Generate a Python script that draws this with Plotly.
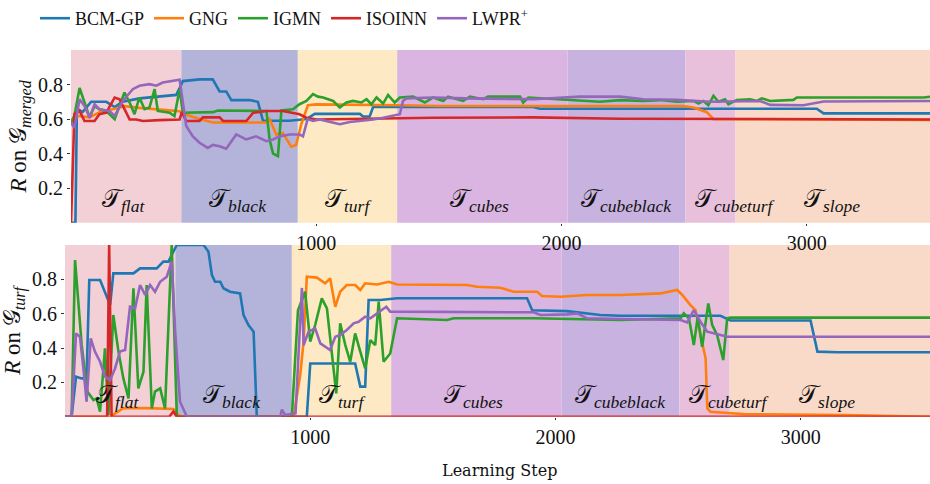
import plotly.graph_objects as go

# ---- phases of the learning schedule (shared by both panels) ----
phase_names = ["flat", "black", "turf", "cubes", "cubeblack", "cubeturf", "slope"]
phase_edges = [0, 450, 925, 1330, 2025, 2505, 2710, 3600]
phase_colors = ["#f3d0d5", "#b4b4da", "#fde9c4", "#dbb5e1", "#c8b2e0", "#e8c0dc", "#f9d9c7"]
# label centre positions (learning step) for each phase tag
phase_label_x = [215, 682, 1130, 1665, 2265, 2705, 3105]

methods = ["BCM-GP", "GNG", "IGMN", "ISOINN", "LWPR<sup>+</sup>"]
method_colors = ["#1f77b4", "#ff7f0e", "#2ca02c", "#d62728", "#9467bd"]

# ---- R on G_merged ----
merged_bcm_x = [0, 18, 24, 47, 82, 144, 178, 210, 280, 348, 402, 429, 443, 456, 524, 578, 606, 633, 654, 729,
                762, 783, 892, 960, 994, 1178, 1191, 1218, 1232, 1885, 1912, 3041, 3069, 3505]
merged_bcm_y = [0, 0, 0.66, 0.64, 0.70, 0.70, 0.67, 0.70, 0.72, 0.73, 0.74, 0.74, 0.78, 0.82, 0.83, 0.83, 0.76,
                0.76, 0.71, 0.71, 0.70, 0.59, 0.59, 0.60, 0.63, 0.63, 0.615, 0.615, 0.67, 0.67, 0.66, 0.66,
                0.633, 0.633]

merged_gng_x = [0, 21, 76, 116, 178, 218, 279, 402, 443, 470, 524, 579, 797, 810, 837, 864, 898, 918, 939, 966,
                1001, 1341, 1500, 2497, 2538, 2593, 2620, 3505]
merged_gng_y = [0.58, 0.62, 0.61, 0.64, 0.66, 0.675, 0.665, 0.65, 0.645, 0.625, 0.60, 0.58, 0.58, 0.60, 0.51,
                0.52, 0.44, 0.45, 0.57, 0.68, 0.685, 0.68, 0.676, 0.676, 0.667, 0.64, 0.60, 0.595]

merged_igmn_x = [0, 14, 35, 55, 76, 96, 116, 144, 178, 218, 239, 259, 279, 300, 320, 341, 354, 402, 422, 443,
                 456, 579, 599, 797, 810, 824, 844, 858, 905, 932, 960, 987, 1007, 1028, 1069, 1096, 1123, 1150,
                 1184, 1205, 1225, 1246, 1273, 1293, 1320, 1341, 1395, 1443, 1477, 1518, 1538, 1599, 1627, 1681,
                 1701, 1831, 1844, 1865, 2021, 2157, 2239, 2334, 2402, 2470, 2538, 2559, 2579, 2599, 2620, 2640,
                 2667, 2681, 2715, 2769, 2797, 2817, 2851, 2946, 2960, 3477, 3505]
merged_igmn_y = [0.58, 0.62, 0.78, 0.70, 0.61, 0.675, 0.657, 0.647, 0.60, 0.754, 0.696, 0.628, 0.725, 0.657,
                 0.667, 0.773, 0.647, 0.637, 0.618, 0.773, 0.637, 0.64, 0.65, 0.647, 0.48, 0.40, 0.385, 0.65,
                 0.657, 0.686, 0.705, 0.745, 0.73, 0.725, 0.705, 0.667, 0.696, 0.705, 0.696, 0.715, 0.686, 0.725,
                 0.69, 0.74, 0.696, 0.725, 0.73, 0.696, 0.725, 0.705, 0.73, 0.705, 0.73, 0.715, 0.73, 0.73, 0.695,
                 0.725, 0.711, 0.70, 0.71, 0.705, 0.71, 0.70, 0.705, 0.69, 0.705, 0.68, 0.735, 0.70, 0.715, 0.686,
                 0.711, 0.715, 0.705, 0.72, 0.705, 0.711, 0.725, 0.725, 0.73]

merged_isoinn_x = [0, 14, 35, 55, 96, 116, 144, 178, 198, 239, 266, 293, 360, 443, 452, 470, 524, 538, 606, 620,
                   715, 743, 797, 864, 932, 960, 1001, 1205, 1477, 1885, 2157, 2239, 3505]
merged_isoinn_y = [0, 0.63, 0.647, 0.589, 0.589, 0.628, 0.637, 0.725, 0.715, 0.598, 0.598, 0.589, 0.594, 0.598,
                   0.64, 0.589, 0.589, 0.61, 0.61, 0.589, 0.589, 0.637, 0.647, 0.647, 0.628, 0.608, 0.598, 0.604,
                   0.608, 0.61, 0.604, 0.602, 0.598]

merged_lwpr_x = [0, 14, 35, 55, 76, 96, 116, 157, 178, 211, 252, 279, 320, 348, 374, 415, 443, 470, 497, 524,
                 558, 579, 606, 633, 674, 714, 755, 797, 824, 851, 891, 932, 946, 965, 987, 1014, 1069, 1096,
                 1137, 1178, 1232, 1273, 1314, 1341, 1354, 1368, 1477, 1613, 1885, 2076, 2239, 2334, 2470, 2538,
                 2606, 2810, 2851, 2987, 3069, 3505]
merged_lwpr_y = [0.579, 0.55, 0.715, 0.676, 0.608, 0.686, 0.657, 0.647, 0.618, 0.705, 0.773, 0.793, 0.802,
                 0.793, 0.812, 0.822, 0.828, 0.56, 0.50, 0.463, 0.433, 0.45, 0.443, 0.428, 0.511, 0.482, 0.50,
                 0.472, 0.482, 0.50, 0.511, 0.511, 0.50, 0.60, 0.589, 0.598, 0.579, 0.57, 0.583, 0.589, 0.598,
                 0.608, 0.618, 0.628, 0.705, 0.72, 0.725, 0.72, 0.715, 0.73, 0.73, 0.715, 0.711, 0.705, 0.70,
                 0.705, 0.682, 0.68, 0.702, 0.705]

# ---- R on G_turf ----
turf_bcm_x = [0, 27, 45, 68, 88, 99, 143, 170, 184, 197, 279, 306, 374, 401, 422, 435, 456, 565, 585, 599, 612,
              633, 646, 673, 714, 728, 748, 769, 782, 986, 1000, 1183, 1204, 1224, 1238, 1286, 1354, 1884, 1905,
              2047, 2183, 2265, 2673, 2714, 3040, 3068, 3149, 3530]
turf_bcm_y = [0, 0, 0.233, 0.223, 0.223, 0.796, 0.796, 0.70, 0.65, 0.835, 0.835, 0.864, 0.864, 0.903, 0.903,
              0.942, 1.0, 1.0, 0.961, 0.825, 0.786, 0.786, 0.748, 0.728, 0.718, 0.592, 0.534, 0.495, 0.0, 0.0,
              0.31, 0.31, 0.175, 0.175, 0.68, 0.68, 0.69, 0.69, 0.62, 0.615, 0.592, 0.588, 0.588, 0.56, 0.56,
              0.379, 0.375, 0.375]

turf_gng_x = [0, 184, 238, 333, 442, 469, 932, 959, 973, 986, 1027, 1061, 1081, 1102, 1122, 1149, 1183, 1204,
              1224, 1272, 1320, 1354, 1639, 1680, 1775, 1830, 1925, 1945, 2020, 2075, 2129, 2265, 2428, 2496,
              2517, 2550, 2571, 2591, 2612, 2619, 2632, 2687, 2768, 3176, 3530]
turf_gng_y = [0, 0, 0.05, 0.05, 0.045, 0, 0, 0.243, 0.44, 0.815, 0.81, 0.777, 0.806, 0.64, 0.728, 0.767, 0.767,
              0.738, 0.777, 0.77, 0.786, 0.77, 0.767, 0.757, 0.751, 0.728, 0.728, 0.703, 0.699, 0.703, 0.709,
              0.709, 0.718, 0.738, 0.709, 0.65, 0.621, 0.476, 0.34, 0.048, 0.029, 0.023, 0.015, 0.01, 0.0]

turf_igmn_x = [0, 27, 41, 68, 91, 116, 129, 143, 163, 177, 197, 218, 238, 259, 279, 299, 320, 333, 354, 367,
               388, 408, 435, 456, 925, 950, 979, 1000, 1020, 1047, 1068, 1088, 1106, 1122, 1143, 1163, 1183,
               1204, 1224, 1245, 1265, 1279, 1299, 1326, 1354, 1558, 1585, 1911, 2047, 2265, 2510, 2523, 2544,
               2564, 2580, 2598, 2623, 2639, 2659, 2684, 2700, 2714, 3530]
turf_igmn_y = [0, 0, 0.912, 0.418, 0.146, 0.097, 0.107, 0.029, 0.398, 0.01, 0.592, 0.379, 0.223, 0.107, 0.748,
               0.165, 0.262, 0.767, 0.048, 0.146, 0.165, 0.048, 1.0, 0.0, 0.0, 0.62, 0.728, 0.437, 0.534, 0.689,
               0.631, 0.359, 0.136, 0.544, 0.417, 0.32, 0.485, 0.379, 0.281, 0.446, 0.417, 0.67, 0.32, 0.368,
               0.573, 0.563, 0.573, 0.573, 0.57, 0.563, 0.573, 0.602, 0.573, 0.417, 0.582, 0.407, 0.66, 0.534,
               0.476, 0.33, 0.573, 0.577, 0.577]

turf_isoinn_x = [0, 172, 180, 190, 425, 442, 456, 3530]
turf_isoinn_y = [0, 0, 1.0, 0, 0, 0.03, 0, 0]

turf_lwpr_x = [0, 27, 45, 61, 75, 88, 105, 122, 143, 163, 184, 204, 224, 245, 265, 286, 306, 327, 347, 367, 388,
               415, 435, 449, 469, 497, 878, 884, 898, 940, 966, 973, 993, 1020, 1041, 1081, 1102, 1122, 1149,
               1177, 1197, 1224, 1245, 1265, 1292, 1310, 1326, 1911, 1939, 2047, 2088, 2129, 2265, 2510, 2537,
               2564, 2591, 2619, 2673, 2700, 3530]
turf_lwpr_y = [0, 0, 0.485, 0.466, 0.281, 0.087, 0.456, 0.379, 0.32, 0.233, 0.213, 0.281, 0.379, 0.388, 0.64,
               0.631, 0.767, 0.709, 0.767, 0.728, 0.786, 0.815, 0.903, 0.5, 0.087, 0.0, 0.0, 0.04, 0.01, 0.02,
               0.75, 0.417, 0.495, 0.515, 0.427, 0.388, 0.466, 0.476, 0.505, 0.544, 0.553, 0.582, 0.573, 0.592,
               0.621, 0.64, 0.612, 0.608, 0.592, 0.596, 0.602, 0.573, 0.569, 0.563, 0.549, 0.621, 0.553, 0.495,
               0.476, 0.466, 0.466]

merged_series = [(merged_bcm_x, merged_bcm_y), (merged_gng_x, merged_gng_y), (merged_igmn_x, merged_igmn_y),
                 (merged_isoinn_x, merged_isoinn_y), (merged_lwpr_x, merged_lwpr_y)]
turf_series = [(turf_bcm_x, turf_bcm_y), (turf_gng_x, turf_gng_y), (turf_igmn_x, turf_igmn_y),
               (turf_isoinn_x, turf_isoinn_y), (turf_lwpr_x, turf_lwpr_y)]

W, H = 930, 484
SERIF = "Liberation Serif"

fig = go.Figure()
for name, color, (mx, my), (tx, ty) in zip(methods, method_colors, merged_series, turf_series):
    fig.add_trace(go.Scatter(x=mx, y=my, mode="lines", name=name, legendgroup=name,
                             line=dict(color=color, width=2.6), xaxis="x", yaxis="y"))
    fig.add_trace(go.Scatter(x=tx, y=ty, mode="lines", name=name, legendgroup=name, showlegend=False,
                             line=dict(color=color, width=2.6), xaxis="x2", yaxis="y2"))

# phase background bands
shapes = []
for xa, ya in (("x", "y"), ("x2", "y2")):
    for i, col in enumerate(phase_colors):
        shapes.append(dict(type="rect", xref=xa, yref=ya + " domain", x0=phase_edges[i], x1=phase_edges[i + 1],
                           y0=0, y1=1, fillcolor=col, line=dict(width=0), layer="below"))

annotations = []
for xa, ya, yy in (("x", "y", 0.13), ("x2", "y2", 0.12)):
    for nm, lx in zip(phase_names, phase_label_x):
        annotations.append(dict(x=lx, y=yy, xref=xa, yref=ya + " domain", showarrow=False,
                                text="𝒯<sub><i>%s</i></sub>" % nm, xanchor="center", yanchor="middle",
                                font=dict(family=SERIF, size=25, color="#111")))

# x-axis title
annotations.append(dict(x=500 / W, y=1 - 470 / H, xref="paper", yref="paper", showarrow=False,
                        xanchor="center", yanchor="middle",
                        text="Learning Step", font=dict(family="DejaVu Serif", size=16, color="#111")))

tick_font = dict(family=SERIF, size=20, color="#111")
title_font = dict(family=SERIF, size=23, color="#111")
xcommon = dict(tickvals=[1000, 2000, 3000], ticktext=["1000", "2000", "3000"], showgrid=False, zeroline=False,
               ticks="outside", ticklen=2, tickcolor="#333", tickfont=tick_font, showline=False,
               automargin=False)
ycommon = dict(range=[0, 1.0], tickvals=[0.2, 0.4, 0.6, 0.8], ticktext=["0.2", "0.4", "0.6", "0.8"],
               showgrid=False, zeroline=False, ticks="outside", ticklen=3, tickcolor="#333",
               tickfont=tick_font, showline=False, automargin=False)

fig.update_layout(
    width=W, height=H, margin=dict(l=0, r=0, t=0, b=0, autoexpand=False),
    paper_bgcolor="white", plot_bgcolor="white",
    xaxis=dict(domain=[71 / W, 1], range=[0, 3503], anchor="y", **xcommon),
    yaxis=dict(domain=[1 - 222.7 / H, 1 - 50 / H], anchor="x",
               title=dict(text="<i>R</i> on 𝒢<sub><i>merged</i></sub>", font=title_font, standoff=4),
               **ycommon),
    xaxis2=dict(domain=[65 / W, 1], range=[0, 3527], anchor="y2", **xcommon),
    yaxis2=dict(domain=[1 - 416.7 / H, 1 - 245 / H], anchor="x2",
                title=dict(text="<i>R</i> on 𝒢<sub><i>turf</i></sub>", font=title_font, standoff=4),
                **ycommon),
    shapes=shapes, annotations=annotations,
    legend=dict(orientation="h", xref="container", yref="container", x=35 / W, y=1.0,
                xanchor="left", yanchor="top",
                font=dict(family=SERIF, size=18, color="#111"), bgcolor="rgba(0,0,0,0)",
                itemwidth=30, tracegroupgap=0),
    showlegend=True,
)

fig.write_html("out.html")
